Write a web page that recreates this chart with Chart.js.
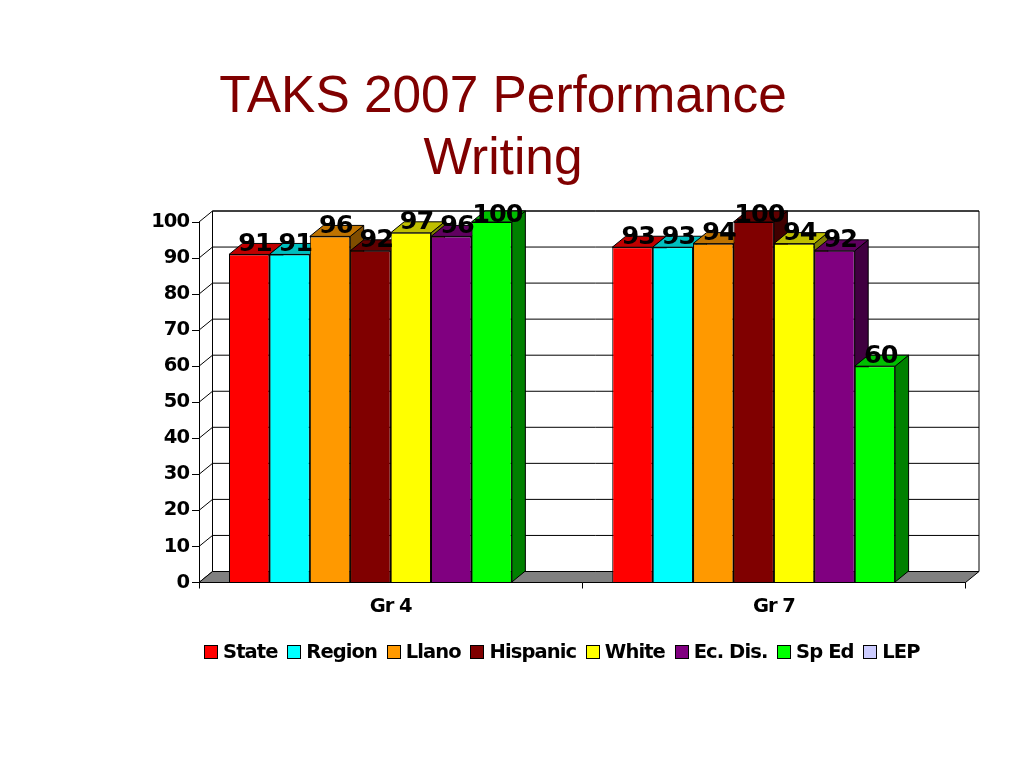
<!DOCTYPE html>
<html>
<head>
<meta charset="utf-8">
<title>TAKS 2007 Performance Writing</title>
<script src="https://cdn.jsdelivr.net/npm/chart.js@4/dist/chart.umd.min.js"></script>
<style>
  html, body { margin: 0; padding: 0; background: #fff; overflow: hidden; }
  #wrap { position: relative; width: 1024px; height: 768px; }
  #myBarChart { position: absolute; left: 0; top: 0; }
  #title {
    position: absolute; left: 0; top: 63px; width: 1006px; text-align: center;
    font-family: "Liberation Sans", Arial, sans-serif; font-size: 51.4px; line-height: 62px; color: #800000;
  }
  #legrow {
    position: absolute; left: 204px; top: 640px; display: flex; align-items: center; height: 23px;
    font-family: "DejaVu Sans", Verdana, sans-serif; font-weight: bold; font-size: 19.5px; letter-spacing: -0.9px; color: #000; white-space: nowrap;
  }
  .legendItem { display: flex; align-items: center; margin-right: 9.7px; }
  .colorBox { width: 12px; height: 12px; border: 1px solid #000; margin-right: 5px; }
</style>
</head>
<body>
<div id="wrap">
  <canvas id="myBarChart" width="1024" height="768"></canvas>
  <div id="title">TAKS 2007 Performance<br>Writing</div>
  <div id="legrow"></div>
</div>
<script>
var categories = ['Gr 4', 'Gr 7'];
var seriesNames = ['State', 'Region', 'Llano', 'Hispanic', 'White', 'Ec. Dis.', 'Sp Ed', 'LEP'];
var seriesColors = ['#ff0000', '#00ffff', '#ff9900', '#800000', '#ffff00', '#800080', '#00ff00', '#ccccff'];

var state = [91, 93];
var region = [91, 93];
var llano = [96, 94];
var hispanic = [92, 100];
var white = [97, 94];
var ecDis = [96, 92];
var spEd = [100, 60];
var lep = [null, null];
var seriesValues = [state, region, llano, hispanic, white, ecDis, spEd, lep];

var yTicks = [0, 10, 20, 30, 40, 50, 60, 70, 80, 90, 100];

// depth of the fake 3d box
var depthX = 13.5;
var depthY = 11;

function shade(hex, f) {
    var r = parseInt(hex.substr(1, 2), 16), g = parseInt(hex.substr(3, 2), 16), b = parseInt(hex.substr(5, 2), 16);
    return 'rgb(' + Math.round(r * f) + ',' + Math.round(g * f) + ',' + Math.round(b * f) + ')';
}

function poly(ctx, pts, fill) {
    ctx.beginPath();
    ctx.moveTo(pts[0][0], pts[0][1]);
    for (var i = 1; i < pts.length; i++) ctx.lineTo(pts[i][0], pts[i][1]);
    ctx.closePath();
    if (fill) { ctx.fillStyle = fill; ctx.fill(); }
    ctx.stroke();
}

var box3d = {
    id: 'box3d',
    // tighter digits, the axis text in the picture is tall and narrow
    beforeDraw: function(chart) {
        chart.ctx.letterSpacing = '-1px';
    },
    // walls and floor behind the bars
    beforeDatasetsDraw: function(chart) {
        var ctx = chart.ctx, a = chart.chartArea, y = chart.scales.y;
        ctx.save();
        ctx.strokeStyle = '#000';
        ctx.lineWidth = 1;
        poly(ctx, [[a.left + depthX, y.top - depthY], [a.right + depthX, y.top - depthY], [a.right + depthX, y.bottom - depthY], [a.left + depthX, y.bottom - depthY]], '#fff');
        yTicks.forEach(function(v) {
            var py = y.getPixelForValue(v);
            ctx.beginPath();
            ctx.moveTo(a.left, py);
            ctx.lineTo(a.left + depthX, py - depthY);
            if (v > 0) ctx.lineTo(a.right + depthX, py - depthY);
            ctx.stroke();
        });
        poly(ctx, [[a.left, y.bottom], [a.right, y.bottom], [a.right + depthX, y.bottom - depthY], [a.left + depthX, y.bottom - depthY]], '#808080');
        ctx.restore();
    },
    // the default pass draws last series first, bars must go left to right here
    beforeDatasetDraw: function() {
        return false;
    },
    afterDatasetsDraw: function(chart) {
        var ctx = chart.ctx;
        ctx.save();
        ctx.strokeStyle = '#000';
        ctx.lineWidth = 1;
        seriesValues.forEach(function(values, s) {
            var color = seriesColors[s];
            chart.getDatasetMeta(s).data.forEach(function(bar, i) {
                if (values[i] === null) return;
                var p = bar.getProps(['x', 'y', 'base', 'width']);
                var l = p.x - p.width / 2, r = p.x + p.width / 2;
                poly(ctx, [[r, p.y], [r + depthX, p.y - depthY], [r + depthX, p.base - depthY], [r, p.base]], shade(color, 0.5));
                poly(ctx, [[l, p.y], [l + depthX, p.y - depthY], [r + depthX, p.y - depthY], [r, p.y]], shade(color, 0.75));
                bar.draw(ctx);
            });
        });
        ctx.restore();

        // value labels go over everything
        var top = chart.scales.y.top;
        ctx.save();
        ctx.font = 'bold 25.5px "DejaVu Sans", Verdana, sans-serif';
        ctx.fillStyle = '#000';
        ctx.textAlign = 'center';
        ctx.textBaseline = 'middle';
        seriesValues.forEach(function(values, s) {
            chart.getDatasetMeta(s).data.forEach(function(bar, i) {
                if (values[i] === null) return;
                var p = bar.getProps(['x', 'y']);
                ctx.fillText(values[i], p.x + depthX / 2 - 1, Math.max(p.y - depthY + 1, top - 7));
            });
        });
        ctx.restore();
    }
};

document.addEventListener('DOMContentLoaded', function() {
    var ctx = document.getElementById('myBarChart').getContext('2d');

    var datasets = seriesNames.map(function(name, i) {
        return {
            label: name,
            data: seriesValues[i],
            backgroundColor: seriesColors[i],
            borderColor: '#000',
            borderWidth: 1,
            categoryPercentage: 0.8435,
            barPercentage: 1
        };
    });

    new Chart(ctx, {
        type: 'bar',
        data: { labels: categories, datasets: datasets },
        plugins: [box3d],
        options: {
            responsive: false,
            animation: false,
            layout: { padding: { left: 140, right: 58.5, top: 222, bottom: 145.5 } },
            scales: {
                x: {
                    afterFit: function(scale) { scale.height = 40; },
                    border: { color: '#000' },
                    grid: { drawOnChartArea: false, tickLength: 6, tickColor: '#000' },
                    ticks: { color: '#000', padding: 7, font: { family: '"DejaVu Sans", Verdana, sans-serif', weight: 'bold', size: 19.5 } }
                },
                y: {
                    min: 0,
                    max: 100,
                    afterFit: function(scale) { scale.width = 59; },
                    border: { color: '#000' },
                    grid: { drawOnChartArea: false, tickLength: 7, tickColor: '#000' },
                    ticks: { stepSize: 10, color: '#000', padding: 3, font: { family: '"DejaVu Sans", Verdana, sans-serif', weight: 'bold', size: 19.5 } }
                }
            },
            plugins: {
                legend: { display: false },
                title: { display: false },
                tooltip: { enabled: false }
            }
        }
    });

    var legendContainer = document.getElementById('legrow');
    seriesNames.forEach(function(label, index) {
        var legendItem = document.createElement('div');
        legendItem.className = 'legendItem';

        var colorBox = document.createElement('div');
        colorBox.className = 'colorBox';
        colorBox.style.backgroundColor = seriesColors[index];
        legendItem.appendChild(colorBox);

        var text = document.createElement('span');
        text.textContent = label;
        legendItem.appendChild(text);

        legendContainer.appendChild(legendItem);
    });
});
</script>
</body>
</html>
